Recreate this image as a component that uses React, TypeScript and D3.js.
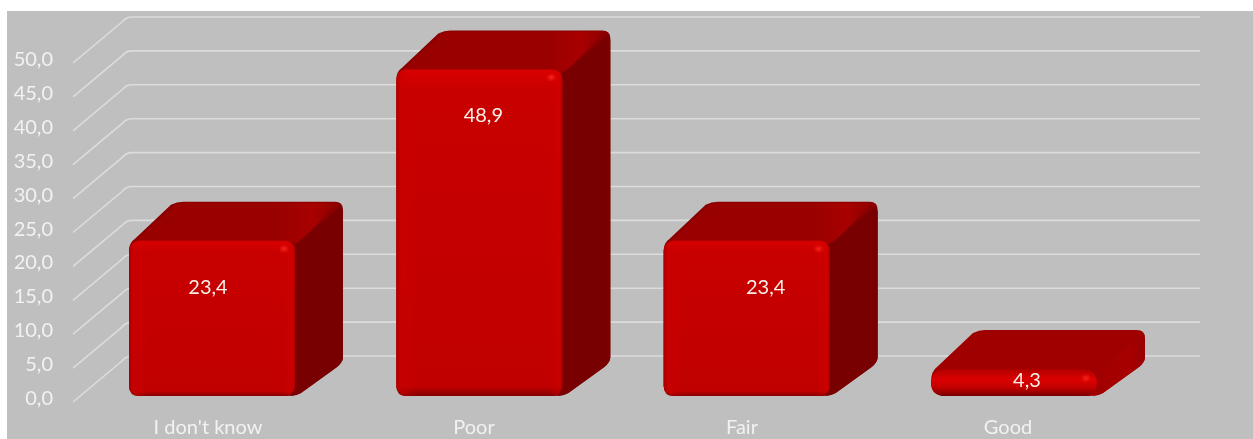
import React from "react";
import * as d3 from "d3";

const categories = ["I don't know", "Poor", "Fair", "Good"];
const values = [23.4, 48.9, 23.4, 4.3];
const valueLabels = ["23,4", "48,9", "23,4", "4,3"];
const ticks = [0, 5, 10, 15, 20, 25, 30, 35, 40, 45, 50];

const W = 1253, H = 439;
const font = "Lato, 'Open Sans', sans-serif";
const gridFront = d3.scaleLinear().domain([0, 50]).range([402, 63]);
const depthX = 55, depthY = -46;
const barY = d3.scaleLinear().domain([0, 50]).range([398, 62]);
const barFloor = 396;
const barX = d3.scaleBand<string>().domain(categories).range([129, 1097]).paddingInner(0.379).paddingOuter(0);
const barDX = 48, barDY = -39;
const labelDX = [-4, 4, 19, 13];
const catCX = [208, 474, 742, 1008];

function Bar({ name, value, label, i }: { name: string; value: number; label: string; i: number }) {
  const x0 = barX(name)!;
  const x1 = x0 + barX.bandwidth();
  const y0 = barFloor;
  const yT = barY(value);
  const small = y0 - yT < 40;
  const rr = small ? (y0 - yT) / 2 : 10;
  const silhouette = `M${x0 + rr},${y0} Q${x0},${y0} ${x0},${y0 - rr} L${x0},${yT + rr}
    Q${x0},${yT + 2} ${x0 + 6},${yT - 2} L${x0 + barDX - 6},${yT + barDY + 3} Q${x0 + barDX},${yT + barDY} ${x0 + barDX + 6},${yT + barDY}
    L${x1 + barDX - 8},${yT + barDY} Q${x1 + barDX},${yT + barDY} ${x1 + barDX},${yT + barDY + 8}
    L${x1 + barDX},${y0 + barDY} Q${x1 + barDX},${y0 + barDY + 5} ${x1 + barDX - 6},${y0 + barDY + 10}
    L${x1 + 6},${y0 - 3} Q${x1},${y0} ${x1 - 8},${y0} Z`;
  const top = `M${x0 + 6},${yT + 1} L${x0 + barDX - 2},${yT + barDY + 3} Q${x0 + barDX + 3},${yT + barDY + 1} ${x0 + barDX + 8},${yT + barDY + 1}
    L${x1 + barDX - 6},${yT + barDY + 1} L${x1 + 4},${yT + 2} Z`;
  const side = `M${x1},${yT + 4} L${x1 + barDX - 2},${yT + barDY + 4} L${x1 + barDX},${yT + barDY + 10}
    L${x1 + barDX},${y0 + barDY} Q${x1 + barDX},${y0 + barDY + 5} ${x1 + barDX - 6},${y0 + barDY + 10} L${x1 + 6},${y0 - 3} Q${x1 + 1},${y0} ${x1 - 4},${y0} Z`;
  const frontH = y0 - yT;
  return (
    <g>
      <path d={silhouette} fill={small ? "#a00000" : "#8a0000"} />
      <path d={top} fill={small ? "#a00000" : "url(#topH)"} />
      <path d={side} fill={small ? "url(#sideSmall)" : "#780000"} />
      <rect x={x0} y={yT} width={x1 - x0} height={frontH} rx={rr} ry={rr}
        fill={small ? "url(#frontSmall)" : "url(#frontV)"} />
      {!small && <rect x={x0} y={yT} width={x1 - x0} height={frontH} rx={rr} ry={rr} fill="url(#frontH)" />}
      <ellipse cx={x1 - 11} cy={yT + (small ? 9 : 8)} rx={7} ry={6} fill="url(#spot)" />
      <text x={(x0 + x1) / 2 + labelDX[i]} y={small ? y0 - 9 : yT + 53} textAnchor="middle"
        fontFamily={font} fontSize={20} fill="#f8efe8">{label}</text>
    </g>
  );
}

export default function App() {
  return (
    <svg width={W} height={H} viewBox={`0 0 ${W} ${H}`} style={{ position: "fixed", left: 0, top: 0 }}>
      <defs>
        <filter id="soft" x="-2%" y="-2%" width="104%" height="104%">
          <feGaussianBlur stdDeviation="0.6" />
        </filter>
        <linearGradient id="topH" x1="0" x2="1" y1="0" y2="0">
          <stop offset="0" stopColor="#990000" />
          <stop offset="0.7" stopColor="#990000" />
          <stop offset="0.88" stopColor="#a80000" />
          <stop offset="1" stopColor="#8f0000" />
        </linearGradient>
        <linearGradient id="sideSmall" x1="0" x2="1" y1="0" y2="0">
          <stop offset="0" stopColor="#a00000" />
          <stop offset="0.7" stopColor="#a80000" />
          <stop offset="1" stopColor="#960000" />
        </linearGradient>
        <linearGradient id="frontV" x1="0" x2="0" y1="0" y2="1">
          <stop offset="0" stopColor="#d80000" />
          <stop offset="0.07" stopColor="#c80000" />
          <stop offset="0.97" stopColor="#c00000" />
          <stop offset="1" stopColor="#850000" />
        </linearGradient>
        <linearGradient id="frontH" x1="0" x2="1" y1="0" y2="0">
          <stop offset="0" stopColor="#a00000" stopOpacity={0.7} />
          <stop offset="0.03" stopColor="#cc0000" stopOpacity={0.5} />
          <stop offset="0.12" stopColor="#d00000" stopOpacity={0} />
          <stop offset="0.92" stopColor="#d00000" stopOpacity={0} />
          <stop offset="0.98" stopColor="#d80000" stopOpacity={0.4} />
          <stop offset="1" stopColor="#a00000" stopOpacity={0.5} />
        </linearGradient>
        <linearGradient id="frontSmall" x1="0" x2="0" y1="0" y2="1">
          <stop offset="0" stopColor="#b00000" />
          <stop offset="0.38" stopColor="#dc0000" />
          <stop offset="0.7" stopColor="#c00000" />
          <stop offset="1" stopColor="#770000" />
        </linearGradient>
        <radialGradient id="spot">
          <stop offset="0" stopColor="#f52a1e" />
          <stop offset="1" stopColor="#e00000" stopOpacity={0} />
        </radialGradient>
      </defs>
      <rect width={W} height={H} fill="#ffffff" />
      <g filter="url(#soft)">
        <rect x={7} y={11} width={W - 7} height={H - 11} fill="#bfbfbf" />
        {ticks.map((t) => (
          <path key={t} stroke="#dcdcdc" strokeWidth={1.6} fill="none"
            d={`M73,${gridFront(t)} L${73 + depthX - 6},${gridFront(t) + depthY + 5} Q${73 + depthX - 2},${gridFront(t) + depthY} ${73 + depthX + 4},${gridFront(t) + depthY} L1200,${gridFront(t) + depthY}`} />
        ))}
        {ticks.map((t) => (
          <text key={t} x={53} y={gridFront(t) + 3} textAnchor="end" fontFamily={font} fontSize={20} fill="#f2f2f2">
            {d3.format(".1f")(t).replace(".", ",")}
          </text>
        ))}
        {categories.map((c, i) => (
          <Bar key={c} name={c} value={values[i]} label={valueLabels[i]} i={i} />
        ))}
        {categories.map((c, i) => (
          <text key={c} x={catCX[i]} y={434} textAnchor="middle" fontFamily={font} fontSize={20} fill="#f2f2f2">{c}</text>
        ))}
      </g>
    </svg>
  );
}
